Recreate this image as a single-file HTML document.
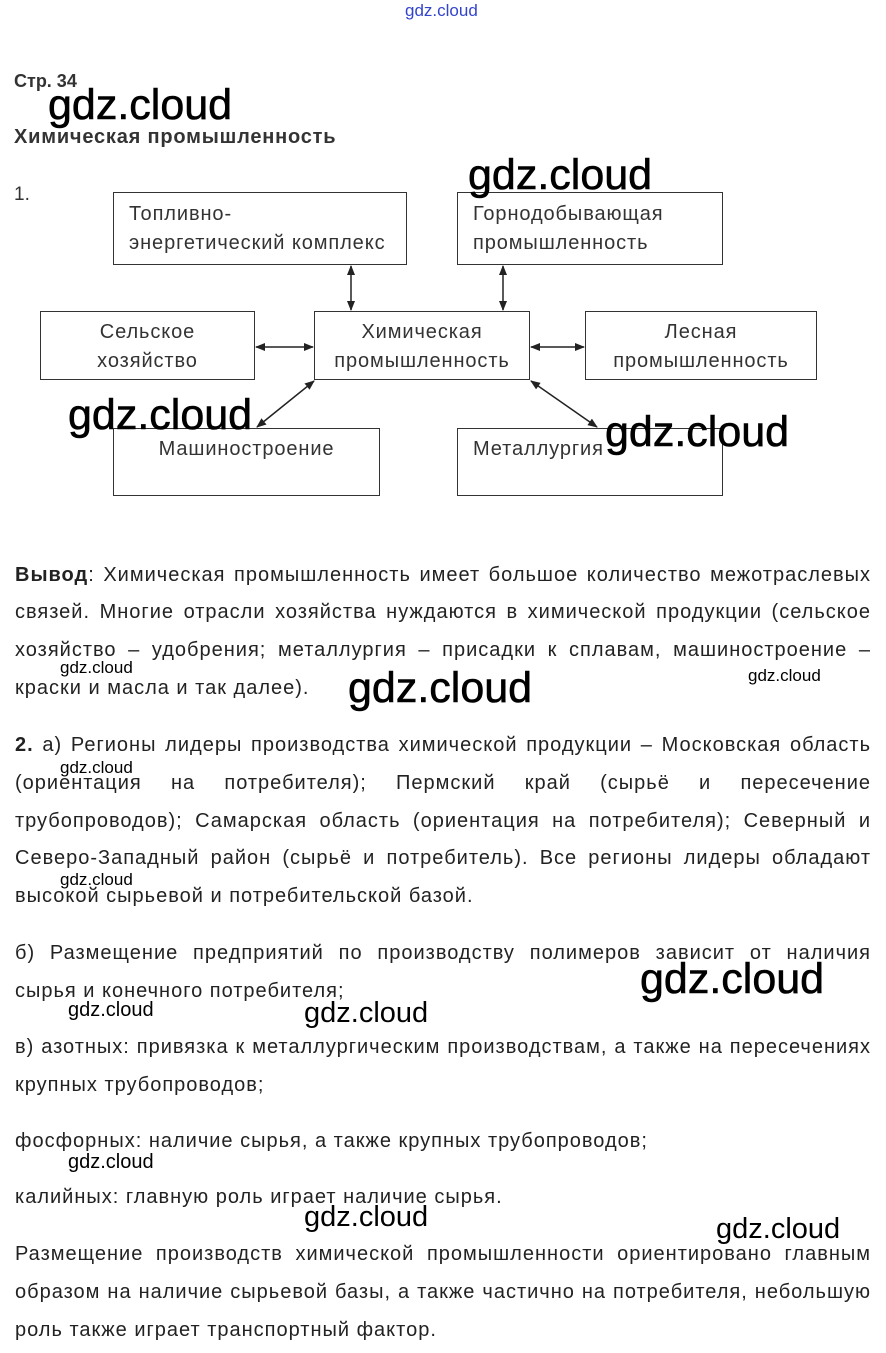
<!DOCTYPE html>
<html><head><meta charset="utf-8"><style>
body{margin:0;width:886px;height:1353px;background:#fff;position:relative;overflow:hidden;font-family:"Liberation Sans",Arial,sans-serif;color:#222;}
.a{position:absolute;white-space:nowrap;}
.box{position:absolute;border:1px solid #333;box-sizing:border-box;font-size:20px;letter-spacing:0.9px;line-height:29px;color:#333;white-space:nowrap;}
.l{position:absolute;left:15px;width:856px;font-size:20px;letter-spacing:1px;height:24px;line-height:24px;text-align:justify;text-align-last:justify;white-space:normal;}
.n{text-align-last:left;}
.wm{position:absolute;font-family:"Liberation Sans",sans-serif;color:#000;white-space:nowrap;line-height:1;}
.b{-webkit-text-stroke:0.6px #000;}
</style></head><body>
<div class="a" style="left:405px;top:1px;font-size:17px;color:#3344cc;">gdz.cloud</div>
<div class="a" style="left:14px;top:71px;font-size:18px;font-weight:bold;color:#333;">Стр. 34</div>
<div class="a" style="left:14px;top:126px;font-size:20px;letter-spacing:0.8px;font-weight:bold;color:#333;">Химическая промышленность</div>
<div class="a" style="left:14px;top:184px;font-size:19px;color:#333;">1.</div>

<div class="box" style="left:113px;top:192px;width:294px;height:73px;padding:7px 0 0 15px;">Топливно-<br>энергетический комплекс</div>
<div class="box" style="left:457px;top:192px;width:266px;height:73px;padding:7px 0 0 15px;">Горнодобывающая<br>промышленность</div>
<div class="box" style="left:40px;top:311px;width:215px;height:69px;padding:6px 0 0 0;text-align:center;">Сельское<br>хозяйство</div>
<div class="box" style="left:314px;top:311px;width:216px;height:69px;padding:6px 0 0 0;text-align:center;">Химическая<br>промышленность</div>
<div class="box" style="left:585px;top:311px;width:232px;height:69px;padding:6px 0 0 0;text-align:center;">Лесная<br>промышленность</div>
<div class="box" style="left:113px;top:428px;width:267px;height:68px;padding:6px 0 0 0;text-align:center;">Машиностроение</div>
<div class="box" style="left:457px;top:428px;width:266px;height:68px;padding:6px 0 0 15px;">Металлургия</div>

<svg class="a" style="left:0;top:0" width="886" height="520">
<defs><marker id="m" markerWidth="10" markerHeight="10" refX="9" refY="5" orient="auto-start-reverse" markerUnits="userSpaceOnUse"><path d="M0,1 L10,5 L0,9 Z" fill="#222"/></marker></defs>
<g stroke="#222" stroke-width="1.5" fill="none">
<line x1="351" y1="266" x2="351" y2="310" marker-start="url(#m)" marker-end="url(#m)"/>
<line x1="503" y1="266" x2="503" y2="310" marker-start="url(#m)" marker-end="url(#m)"/>
<line x1="256" y1="347" x2="313" y2="347" marker-start="url(#m)" marker-end="url(#m)"/>
<line x1="531" y1="347" x2="584" y2="347" marker-start="url(#m)" marker-end="url(#m)"/>
<line x1="314" y1="381" x2="257" y2="427" marker-start="url(#m)" marker-end="url(#m)"/>
<line x1="531" y1="381" x2="597" y2="427" marker-start="url(#m)" marker-end="url(#m)"/>
</g></svg>

<div class="l" style="top:563px"><b>Вывод</b>: Химическая промышленность имеет большое количество межотраслевых</div>
<div class="l" style="top:600px">связей. Многие отрасли хозяйства нуждаются в химической продукции (сельское</div>
<div class="l" style="top:638px">хозяйство – удобрения; металлургия – присадки к сплавам, машиностроение –</div>
<div class="l n" style="top:676px">краски и масла и так далее).</div>

<div class="l" style="top:733px"><b>2.</b> а) Регионы лидеры производства химической продукции – Московская область</div>
<div class="l" style="top:771px">(ориентация на потребителя); Пермский край (сырьё и пересечение</div>
<div class="l" style="top:809px">трубопроводов); Самарская область (ориентация на потребителя); Северный и</div>
<div class="l" style="top:846px">Северо-Западный район (сырьё и потребитель). Все регионы лидеры обладают</div>
<div class="l n" style="top:884px">высокой сырьевой и потребительской базой.</div>

<div class="l" style="top:941px">б) Размещение предприятий по производству полимеров зависит от наличия</div>
<div class="l n" style="top:979px">сырья и конечного потребителя;</div>
<div class="l" style="top:1035px">в) азотных: привязка к металлургическим производствам, а также на пересечениях</div>
<div class="l n" style="top:1073px">крупных трубопроводов;</div>
<div class="l n" style="top:1129px">фосфорных: наличие сырья, а также крупных трубопроводов;</div>
<div class="l n" style="top:1185px">калийных: главную роль играет наличие сырья.</div>
<div class="l" style="top:1242px">Размещение производств химической промышленности ориентировано главным</div>
<div class="l" style="top:1280px">образом на наличие сырьевой базы, а также частично на потребителя, небольшую</div>
<div class="l n" style="top:1318px">роль также играет транспортный фактор.</div>

<div class="wm b" style="left:48px;top:84px;font-size:43px;">gdz.cloud</div>
<div class="wm b" style="left:468px;top:154px;font-size:43px;">gdz.cloud</div>
<div class="wm b" style="left:68px;top:394px;font-size:43px;">gdz.cloud</div>
<div class="wm b" style="left:605px;top:411px;font-size:43px;">gdz.cloud</div>
<div class="wm b" style="left:348px;top:667px;font-size:43px;">gdz.cloud</div>
<div class="wm b" style="left:640px;top:958px;font-size:43px;">gdz.cloud</div>
<div class="wm" style="left:304px;top:999px;font-size:29px;">gdz.cloud</div>
<div class="wm" style="left:304px;top:1203px;font-size:29px;">gdz.cloud</div>
<div class="wm" style="left:716px;top:1215px;font-size:29px;">gdz.cloud</div>
<div class="wm" style="left:60px;top:659px;font-size:17px;">gdz.cloud</div>
<div class="wm" style="left:748px;top:667px;font-size:17px;">gdz.cloud</div>
<div class="wm" style="left:60px;top:759px;font-size:17px;">gdz.cloud</div>
<div class="wm" style="left:60px;top:871px;font-size:17px;">gdz.cloud</div>
<div class="wm" style="left:68px;top:1000px;font-size:20px;">gdz.cloud</div>
<div class="wm" style="left:68px;top:1152px;font-size:20px;">gdz.cloud</div>
</body></html>
